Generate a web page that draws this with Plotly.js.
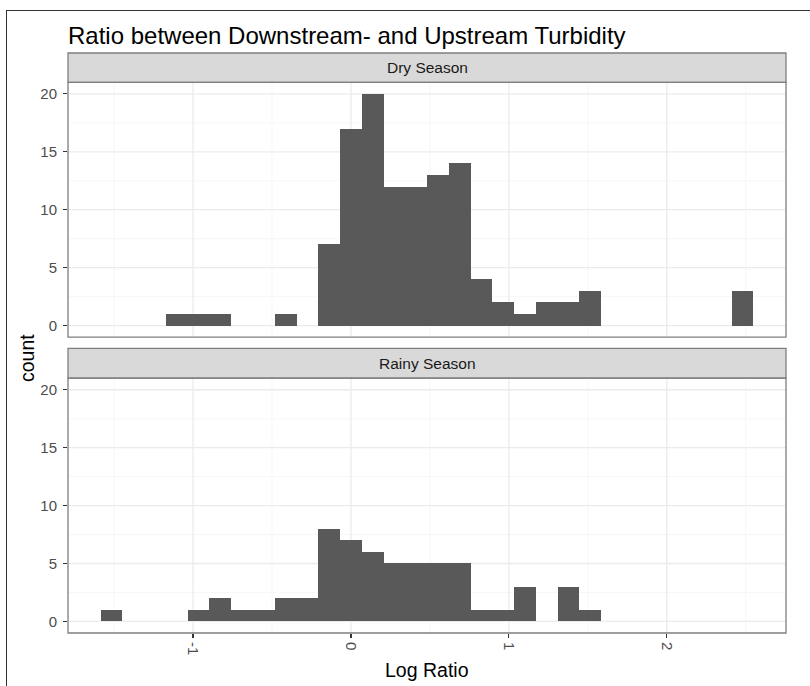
<!DOCTYPE html>
<html>
<head>
<meta charset="utf-8">
<script src="https://cdn.plot.ly/plotly-3.0.1.min.js"></script>
<style>
  html, body { margin: 0; padding: 0; background: #ffffff; }
  #wrap { position: relative; width: 810px; height: 686px; }
  #chart { position: absolute; left: 0; top: 0; width: 810px; height: 686px; }
  #frame { position: absolute; left: 6px; top: 10px; width: 804px; height: 676px;
           border-top: 1.5px solid #333333; border-left: 1.5px solid #333333; pointer-events: none; }
</style>
</head>
<body>
<div id="wrap">
  <div id="chart"></div>
  <div id="frame"></div>
</div>
<script>
// ---- data ----
const chartTitle = "Ratio between Downstream- and Upstream Turbidity";
const facetLabels = ["Dry Season", "Rainy Season"];
const xAxisTitle = "Log Ratio";
const yAxisTitle = "count";
const binStart = -1.585;   // left edge of first bin (log ratio)
const binWidth = 0.1378;   // width of each of the 30 bins
const dryCounts   = [0,0,0,1,1,1,0,0,1,0,7,17,20,12,12,13,14,4,2,1,2,2,3,0,0,0,0,0,0,3];
const rainyCounts = [1,0,0,0,1,2,1,1,2,2,8,7,6,5,5,5,5,1,1,3,0,3,1,0,0,0,0,0,0,0];
const xTickVals = [-1, 0, 1, 2];
const xMinorVals = [-1.5, -0.5, 0.5, 1.5, 2.5];
const yTickVals = [0, 5, 10, 15, 20];
const yMinorVals = [2.5, 7.5, 12.5, 17.5];

// ---- derived bin centres ----
const centres = dryCounts.map((_, i) => binStart + (i + 0.5) * binWidth);

const barStyle = { color: '#595959', line: { width: 0 } };

const traces = [
  { type: 'bar', x: centres, y: dryCounts, width: binWidth, marker: barStyle,
    xaxis: 'x2', yaxis: 'y2', hoverinfo: 'x+y', showlegend: false },
  { type: 'bar', x: centres, y: rainyCounts, width: binWidth, marker: barStyle,
    xaxis: 'x', yaxis: 'y', hoverinfo: 'x+y', showlegend: false }
];

// vertical layout (paper fractions of the plot area)
const topDom = [0.5101, 0.9495];
const topStrip = [0.9495, 1.0];
const botDom = [0.0, 0.4394];
const botStrip = [0.4394, 0.4906];

const FONT = 'Liberation Sans, Arial, Helvetica, sans-serif';
const tickFont = { family: FONT, size: 15, color: '#4D4D4D' };
const xRange = [-1.792, 2.755];
const yRange = [-1, 21];

function xAxis(showLabels, anchor) {
  return {
    range: xRange, anchor: anchor, domain: [0, 1],
    tickvals: xTickVals, ticktext: xTickVals.map(String),
    showticklabels: showLabels, ticks: showLabels ? 'outside' : '',
    ticklen: 4, tickwidth: 1.2, tickcolor: '#333333', tickangle: 90,
    tickfont: tickFont, ticklabelstandoff: 1,
    showgrid: false, zeroline: false, showline: false, fixedrange: true
  };
}
function yAxis(dom, anchor) {
  return {
    range: yRange, domain: dom, anchor: anchor,
    tickvals: yTickVals, ticktext: yTickVals.map(String),
    ticks: 'outside', ticklen: 4, tickwidth: 1.2, tickcolor: '#333333',
    tickfont: tickFont, ticklabelstandoff: 3,
    showgrid: false, zeroline: false, showline: false, fixedrange: true
  };
}

// grid lines (theme_bw style) drawn at the axis break values
const MAJOR = { color: '#EBEBEB', width: 1.3 };
const MINOR = { color: '#F3F3F3', width: 0.7 };
const shapes = [];
[['x', 'y'], ['x2', 'y2']].forEach(([xa, ya]) => {
  xMinorVals.forEach(v => shapes.push({ type: 'line', xref: xa, yref: ya + ' domain',
    x0: v, x1: v, y0: 0, y1: 1, line: MINOR, layer: 'below' }));
  yMinorVals.forEach(v => shapes.push({ type: 'line', xref: xa + ' domain', yref: ya,
    x0: 0, x1: 1, y0: v, y1: v, line: MINOR, layer: 'below' }));
  xTickVals.forEach(v => shapes.push({ type: 'line', xref: xa, yref: ya + ' domain',
    x0: v, x1: v, y0: 0, y1: 1, line: MAJOR, layer: 'below' }));
  yTickVals.forEach(v => shapes.push({ type: 'line', xref: xa + ' domain', yref: ya,
    x0: 0, x1: 1, y0: v, y1: v, line: MAJOR, layer: 'below' }));
});

const borderColor = '#7F7F7F';
[topStrip, botStrip].forEach(s => shapes.push({ type: 'rect', xref: 'paper', yref: 'paper',
  x0: 0, x1: 1, y0: s[0], y1: s[1], fillcolor: '#D9D9D9',
  line: { color: borderColor, width: 1.3 }, layer: 'above' }));
[topDom, botDom].forEach(d => shapes.push({ type: 'rect', xref: 'paper', yref: 'paper',
  x0: 0, x1: 1, y0: d[0], y1: d[1], fillcolor: 'rgba(0,0,0,0)',
  line: { color: borderColor, width: 1.3 }, layer: 'above' }));

const stripFont = { family: FONT, size: 15.5, color: '#1A1A1A' };
const axTitleFont = { family: FONT, size: 19.5, color: '#000000' };
const annotations = [
  { text: facetLabels[0], xref: 'paper', yref: 'paper', x: 0.5, y: (topStrip[0] + topStrip[1]) / 2,
    xanchor: 'center', yanchor: 'middle', showarrow: false, font: stripFont },
  { text: facetLabels[1], xref: 'paper', yref: 'paper', x: 0.5, y: (botStrip[0] + botStrip[1]) / 2,
    xanchor: 'center', yanchor: 'middle', showarrow: false, font: stripFont },
  { text: xAxisTitle, xref: 'paper', yref: 'paper', x: 0.5, y: -0.0638,
    xanchor: 'center', yanchor: 'middle', showarrow: false, font: axTitleFont },
  { text: yAxisTitle, xref: 'paper', yref: 'paper', x: -0.058, y: 0.4747, textangle: -90,
    xanchor: 'center', yanchor: 'middle', showarrow: false, font: axTitleFont }
];

const layout = {
  width: 810, height: 686,
  margin: { l: 68, r: 24, t: 52.7, b: 53, pad: 0 },
  paper_bgcolor: '#FFFFFF', plot_bgcolor: '#FFFFFF',
  bargap: 0,
  title: { text: chartTitle, xref: 'paper', x: 0, xanchor: 'left',
           yref: 'container', y: 1 - 36 / 686, yanchor: 'middle',
           font: { family: FONT, size: 24, color: '#000000' } },
  xaxis: xAxis(true, 'y'),
  xaxis2: Object.assign(xAxis(false, 'y2'), { matches: 'x' }),
  yaxis: yAxis(botDom, 'x'),
  yaxis2: yAxis(topDom, 'x2'),
  shapes: shapes,
  annotations: annotations,
  showlegend: false
};

Plotly.newPlot('chart', traces, layout, { staticPlot: true, displayModeBar: false });
</script>
</body>
</html>
